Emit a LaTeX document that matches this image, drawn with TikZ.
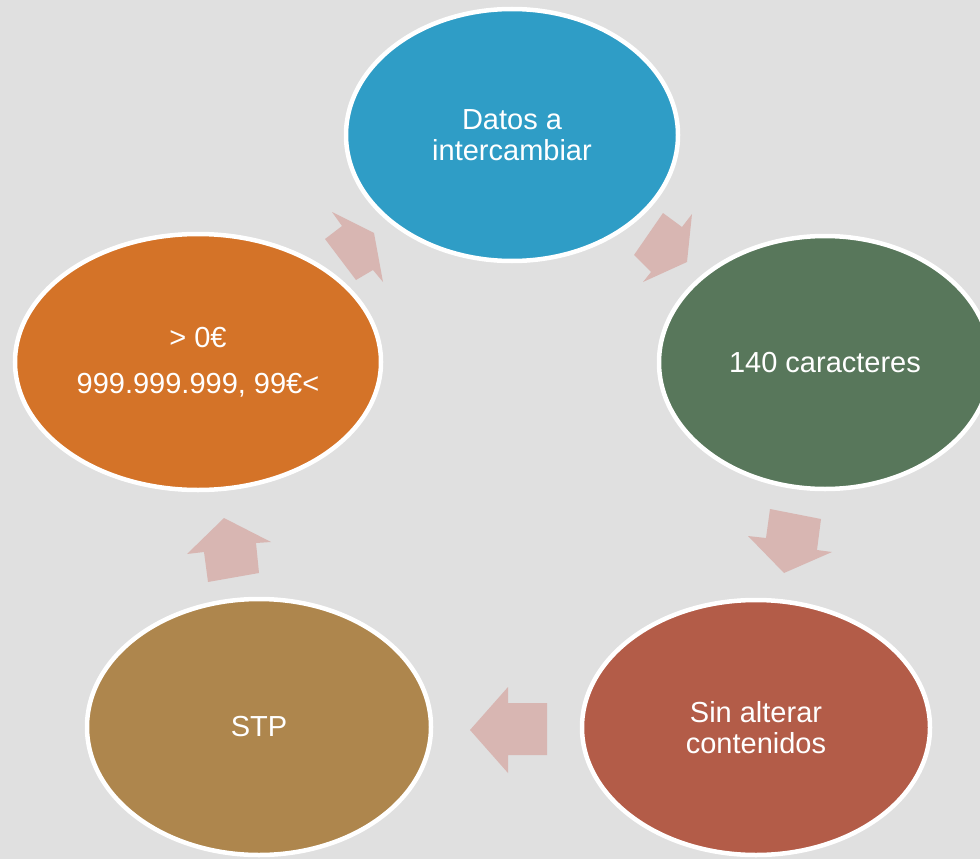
\documentclass[tikz,border=0pt]{standalone}
\usepackage{fontspec}
\setmainfont{Liberation Sans}
\usetikzlibrary{shapes.geometric}
\definecolor{bg}{HTML}{E0E0E0}
\definecolor{cblue}{HTML}{2F9DC6}
\definecolor{cgreen}{HTML}{58775B}
\definecolor{cred}{HTML}{B35C48}
\definecolor{cbrown}{HTML}{AE864D}
\definecolor{corange}{HTML}{D47328}
\definecolor{carrow}{HTML}{D8B6B2}
\tikzset{
  stage/.style={ellipse, draw=white, line width=4.5pt, inner sep=0pt, text=white,
    align=center, font=\fontsize{29}{31}\selectfont},
  blockarrow/.style={fill=carrow, draw=none}
}
\begin{document}
\begin{tikzpicture}[x=1pt,y=-1pt]
\useasboundingbox (0,0) rectangle (980,859);
\fill[bg] (0,0) rectangle (980,859);
% stages
\node[stage, fill=cblue, minimum width=332pt, minimum height=252pt] (datos) at (512,135) {Datos a\\intercambiar};
\node[stage, fill=cgreen, minimum width=332pt, minimum height=253pt] (car) at (825,362.5) {140 caracteres};
\node[stage, fill=cred, minimum width=348pt, minimum height=255pt] (sin) at (756,727.5) {Sin alterar\\contenidos};
\node[stage, fill=cbrown, minimum width=344pt, minimum height=256pt] (stp) at (259,727) {STP};
\node[stage, fill=corange, minimum width=366pt, minimum height=256pt] (eur) at (198,362) {> 0€\\[15pt]999.999.999, 99€<};
% arrows
\fill[blockarrow] (374,233) -- (383,282) -- (373,270) -- (356,280) -- (325,239) -- (342,226) -- (332,212) -- cycle;
\fill[blockarrow] (687,262) -- (643,282) -- (651,272) -- (634,255) -- (663,213) -- (682,227) -- (692,214) -- cycle;
\fill[blockarrow] (784,573) -- (748,536) -- (766,538) -- (770,509) -- (821,519) -- (817,550) -- (832,552) -- cycle;
\fill[blockarrow] (470,730) -- (508,687) -- (508,703) -- (547,703) -- (547,755) -- (508,755) -- (508,773) -- cycle;
\fill[blockarrow] (224,518) -- (271,542) -- (256,543) -- (259,573) -- (208,582) -- (204,552) -- (187,554) -- cycle;
\end{tikzpicture}
\end{document}
